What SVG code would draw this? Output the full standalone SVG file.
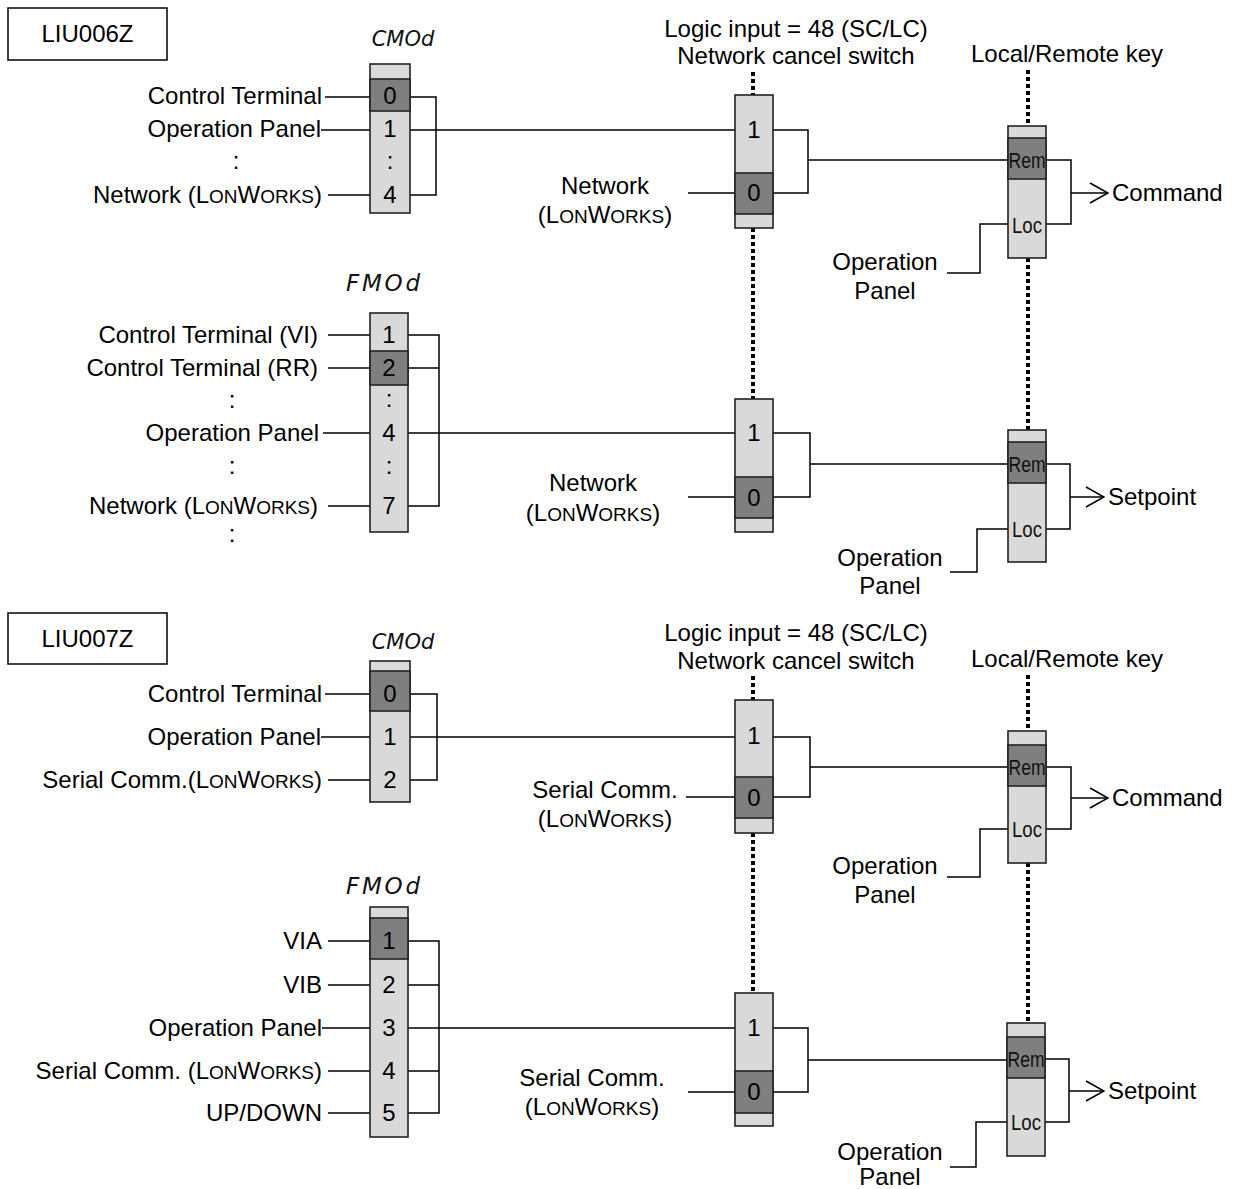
<svg xmlns="http://www.w3.org/2000/svg" width="1236" height="1189" viewBox="0 0 1236 1189">
<style>
text{font-family:"Liberation Sans",Arial,sans-serif;font-size:24px;fill:#000}
.e{text-anchor:end}
.m{text-anchor:middle}
.sc{font-size:19px}
.seg{font-family:"DejaVu Sans","Liberation Sans",sans-serif;font-style:italic;font-size:23px;text-anchor:middle;fill:#111}
.seg2{font-family:"DejaVu Sans","Liberation Sans",sans-serif;font-style:italic;font-size:21px;text-anchor:middle;fill:#111}
.rl{font-size:22px;text-anchor:middle;fill:#111}
.lt{fill:#d9d9d9;stroke:#222;stroke-width:1.6}
.dk{fill:#7f7f7f;stroke:#222;stroke-width:1.6}
.ln{fill:none;stroke:#000;stroke-width:1.5}
.dot{fill:none;stroke:#000;stroke-width:4;stroke-dasharray:4 3}
.bx{fill:#fff;stroke:#000;stroke-width:1.5}
</style>
<defs>
<marker id="ah" viewBox="0 0 20 22" refX="19" refY="11" markerWidth="20" markerHeight="22" markerUnits="userSpaceOnUse" orient="auto">
<path d="M1,1 L19,11 L1,21" fill="none" stroke="#000" stroke-width="1.6"/>
</marker>
</defs>

<g id="connectors">
<!-- section 1 -->
<path class="ln" d="M325,97 H370 M321,130 H370 M328,195 H370"/>
<path class="ln" d="M410,97 H436 V195 H410 M410,130 H735"/>
<path class="ln" d="M688,193 H735 M773,130 H808 V193 H773 M808,160 H1008"/>
<path class="ln" d="M1046,160 H1071 V224 H1046 M1008,224 H980 V273 H947"/>
<path class="ln" d="M1071,193 H1108" marker-end="url(#ah)"/>
<path class="dot" d="M753,72 V95 M753,228 V399 M1028,70 V126 M1028,258 V430"/>
<!-- section 2 -->
<path class="ln" d="M328,335 H370 M328,368 H370 M323,433 H370 M328,506 H370"/>
<path class="ln" d="M408,335 H439 V506 H408 M408,368 H439 M408,433 H735"/>
<path class="ln" d="M688,497 H735 M773,433 H810 V497 H773 M810,464 H1008"/>
<path class="ln" d="M1046,464 H1070 V529 H1046 M1008,529 H977 V572 H950"/>
<path class="ln" d="M1070,497 H1104" marker-end="url(#ah)"/>
<!-- section 3 -->
<path class="ln" d="M325,694 H370 M321,737 H370 M328,780 H370"/>
<path class="ln" d="M410,694 H437 V780 H410 M410,737 H735"/>
<path class="ln" d="M686,797 H735 M773,737 H810 V797 H773 M810,767 H1008"/>
<path class="ln" d="M1046,767 H1071 V829 H1046 M1008,829 H980 V877 H947"/>
<path class="ln" d="M1071,798 H1108" marker-end="url(#ah)"/>
<path class="dot" d="M753,676 V700 M753,833 V993 M1028,675 V731 M1028,863 V1023"/>
<!-- section 4 -->
<path class="ln" d="M328,941 H370 M328,985 H370 M322,1028 H370 M328,1071 H370 M328,1113 H370"/>
<path class="ln" d="M408,941 H439 V1113 H408 M408,985 H439 M408,1071 H439 M408,1028 H735"/>
<path class="ln" d="M688,1092 H735 M773,1028 H808 V1092 H773 M808,1060 H1007"/>
<path class="ln" d="M1045,1059 H1069 V1122 H1045 M1007,1122 H976 V1167 H950"/>
<path class="ln" d="M1069,1091 H1104" marker-end="url(#ah)"/>
</g>

<!-- ===== Section 1 ===== -->
<g id="title1"><rect class="bx" x="8" y="8" width="159" height="52"/><text class="m" x="87.5" y="42">LIU006Z</text></g>
<g id="cmod1">
<text class="seg2" x="403" y="46">CMOd</text>
<rect class="lt" x="370" y="64" width="40" height="149"/>
<rect class="dk" x="370" y="79" width="40" height="32"/>
<text class="m" x="390" y="104">0</text>
<text class="m" x="390" y="137">1</text>
<text class="m" x="390" y="169">:</text>
<text class="m" x="390" y="203">4</text>
</g>
<g id="cmod1-inputs">
<text class="e" x="322" y="104">Control Terminal</text>
<text class="e" x="321" y="137">Operation Panel</text>
<text class="m" x="236" y="169">:</text>
<text class="e" x="322" y="203">Network (L<tspan class="sc">ON</tspan>W<tspan class="sc">ORKS</tspan>)</text>
</g>
<g id="switch1">
<text class="m" x="796" y="37">Logic input = 48 (SC/LC)</text>
<text class="m" x="796" y="64">Network cancel switch</text>
<rect class="lt" x="735" y="95" width="38" height="133"/>
<rect class="dk" x="735" y="173" width="38" height="41"/>
<text class="m" x="754" y="138">1</text>
<text class="m" x="754" y="201">0</text>
<text class="m" x="605" y="194">Network</text>
<text class="m" x="605" y="223">(L<tspan class="sc">ON</tspan>W<tspan class="sc">ORKS</tspan>)</text>
</g>
<g id="key1">
<text class="m" x="1067" y="62">Local/Remote key</text>
<rect class="lt" x="1008" y="126" width="38" height="132"/>
<rect class="dk" x="1008" y="138" width="38" height="41"/>
<text class="rl" x="1027" y="168" textLength="37" lengthAdjust="spacingAndGlyphs">Rem</text>
<text class="rl" x="1027" y="233" textLength="30" lengthAdjust="spacingAndGlyphs">Loc</text>
<text x="1112" y="201">Command</text>
<text class="m" x="885" y="270">Operation</text>
<text class="m" x="885" y="299">Panel</text>
</g>

<!-- ===== Section 2 ===== -->
<g id="fmod1">
<text class="seg" x="383" y="291" textLength="74" lengthAdjust="spacing">FMOd</text>
<rect class="lt" x="370" y="313" width="38" height="219"/>
<rect class="dk" x="370" y="351" width="38" height="34"/>
<text class="m" x="389" y="343">1</text>
<text class="m" x="389" y="376">2</text>
<text class="m" x="389" y="407">:</text>
<text class="m" x="389" y="441">4</text>
<text class="m" x="389" y="474">:</text>
<text class="m" x="389" y="514">7</text>
</g>
<g id="fmod1-inputs">
<text class="e" x="318" y="343">Control Terminal (VI)</text>
<text class="e" x="318" y="376">Control Terminal (RR)</text>
<text class="m" x="232" y="408">:</text>
<text class="e" x="319" y="441">Operation Panel</text>
<text class="m" x="232" y="474">:</text>
<text class="e" x="318" y="514">Network (L<tspan class="sc">ON</tspan>W<tspan class="sc">ORKS</tspan>)</text>
<text class="m" x="232" y="542">:</text>
</g>
<g id="switch2">
<rect class="lt" x="735" y="399" width="38" height="133"/>
<rect class="dk" x="735" y="477" width="38" height="41"/>
<text class="m" x="754" y="441">1</text>
<text class="m" x="754" y="506">0</text>
<text class="m" x="593" y="491">Network</text>
<text class="m" x="593" y="521">(L<tspan class="sc">ON</tspan>W<tspan class="sc">ORKS</tspan>)</text>
</g>
<g id="key2">
<rect class="lt" x="1008" y="430" width="38" height="132"/>
<rect class="dk" x="1008" y="442" width="38" height="41"/>
<text class="rl" x="1027" y="472" textLength="37" lengthAdjust="spacingAndGlyphs">Rem</text>
<text class="rl" x="1027" y="537" textLength="30" lengthAdjust="spacingAndGlyphs">Loc</text>
<text x="1108" y="505">Setpoint</text>
<text class="m" x="890" y="566">Operation</text>
<text class="m" x="890" y="594">Panel</text>
</g>

<!-- ===== Section 3 ===== -->
<g id="title2"><rect class="bx" x="8" y="613" width="159" height="51"/><text class="m" x="87.5" y="647">LIU007Z</text></g>
<g id="cmod2">
<text class="seg2" x="403" y="649">CMOd</text>
<rect class="lt" x="370" y="661" width="40" height="141"/>
<rect class="dk" x="370" y="671" width="40" height="40"/>
<text class="m" x="390" y="702">0</text>
<text class="m" x="390" y="745">1</text>
<text class="m" x="390" y="788">2</text>
</g>
<g id="cmod2-inputs">
<text class="e" x="322" y="702">Control Terminal</text>
<text class="e" x="321" y="745">Operation Panel</text>
<text class="e" x="322" y="788">Serial Comm.(L<tspan class="sc">ON</tspan>W<tspan class="sc">ORKS</tspan>)</text>
</g>
<g id="switch3">
<text class="m" x="796" y="641">Logic input = 48 (SC/LC)</text>
<text class="m" x="796" y="669">Network cancel switch</text>
<rect class="lt" x="735" y="700" width="38" height="133"/>
<rect class="dk" x="735" y="777" width="38" height="41"/>
<text class="m" x="754" y="744">1</text>
<text class="m" x="754" y="806">0</text>
<text class="m" x="605" y="798">Serial Comm.</text>
<text class="m" x="605" y="827">(L<tspan class="sc">ON</tspan>W<tspan class="sc">ORKS</tspan>)</text>
</g>
<g id="key3">
<text class="m" x="1067" y="667">Local/Remote key</text>
<rect class="lt" x="1008" y="731" width="38" height="132"/>
<rect class="dk" x="1008" y="745" width="38" height="41"/>
<text class="rl" x="1027" y="775" textLength="37" lengthAdjust="spacingAndGlyphs">Rem</text>
<text class="rl" x="1027" y="837" textLength="30" lengthAdjust="spacingAndGlyphs">Loc</text>
<text x="1112" y="806">Command</text>
<text class="m" x="885" y="874">Operation</text>
<text class="m" x="885" y="903">Panel</text>
</g>

<!-- ===== Section 4 ===== -->
<g id="fmod2">
<text class="seg" x="383" y="894" textLength="74" lengthAdjust="spacing">FMOd</text>
<rect class="lt" x="370" y="907" width="38" height="230"/>
<rect class="dk" x="370" y="918" width="38" height="41"/>
<text class="m" x="389" y="949">1</text>
<text class="m" x="389" y="993">2</text>
<text class="m" x="389" y="1036">3</text>
<text class="m" x="389" y="1079">4</text>
<text class="m" x="389" y="1121">5</text>
</g>
<g id="fmod2-inputs">
<text class="e" x="322" y="949">VIA</text>
<text class="e" x="322" y="993">VIB</text>
<text class="e" x="322" y="1036">Operation Panel</text>
<text class="e" x="322" y="1079">Serial Comm. (L<tspan class="sc">ON</tspan>W<tspan class="sc">ORKS</tspan>)</text>
<text class="e" x="322" y="1121">UP/DOWN</text>
</g>
<g id="switch4">
<rect class="lt" x="735" y="993" width="38" height="133"/>
<rect class="dk" x="735" y="1071" width="38" height="42"/>
<text class="m" x="754" y="1036">1</text>
<text class="m" x="754" y="1100">0</text>
<text class="m" x="592" y="1086">Serial Comm.</text>
<text class="m" x="592" y="1115">(L<tspan class="sc">ON</tspan>W<tspan class="sc">ORKS</tspan>)</text>
</g>
<g id="key4">
<rect class="lt" x="1007" y="1023" width="38" height="133"/>
<rect class="dk" x="1007" y="1037" width="38" height="41"/>
<text class="rl" x="1026" y="1067" textLength="37" lengthAdjust="spacingAndGlyphs">Rem</text>
<text class="rl" x="1026" y="1130" textLength="30" lengthAdjust="spacingAndGlyphs">Loc</text>
<text x="1108" y="1099">Setpoint</text>
<text class="m" x="890" y="1160">Operation</text>
<text class="m" x="890" y="1185">Panel</text>
</g>
</svg>
